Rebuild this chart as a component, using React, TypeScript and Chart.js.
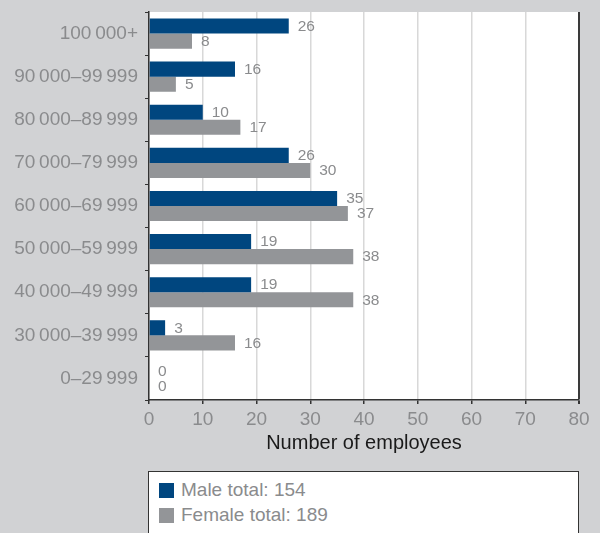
import React, { useEffect, useRef } from "react";
import { Chart, registerables } from "chart.js";

Chart.register(...registerables);

const categories = [
  "100\u2009000+",
  "90\u2009000–99\u2009999",
  "80\u2009000–89\u2009999",
  "70\u2009000–79\u2009999",
  "60\u2009000–69\u2009999",
  "50\u2009000–59\u2009999",
  "40\u2009000–49\u2009999",
  "30\u2009000–39\u2009999",
  "0–29\u2009999",
];
const maleValues = [26, 16, 10, 26, 35, 19, 19, 3, 0];
const femaleValues = [8, 5, 17, 30, 37, 38, 38, 16, 0];
const seriesNames = ["Male", "Female"];
const xMin = 0;
const xMax = 80;
const xStep = 10;
const xTitle = "Number of employees";

const FONT = '"Liberation Sans", Arial, Helvetica, sans-serif';
const MALE_COLOR = "#00467f";
const FEMALE_COLOR = "#939598";
const BG = "#d1d2d4";
const LABEL_GRAY = "#8a8b8d";
const DARK = "#333333";

const total = (arr: number[]) => arr.reduce((a, b) => a + b, 0);
const seriesColors = [MALE_COLOR, FEMALE_COLOR];
const seriesValues = [maleValues, femaleValues];

const plotBackground = {
  id: "plotBackground",
  beforeDraw(chart: any) {
    const { ctx, chartArea } = chart;
    if (!chartArea) return;
    ctx.save();
    ctx.fillStyle = "#ffffff";
    ctx.fillRect(chartArea.left, chartArea.top, chartArea.right - chartArea.left, chartArea.bottom - chartArea.top);
    ctx.restore();
  },
};

const valueLabels = {
  id: "valueLabels",
  afterDatasetsDraw(chart: any) {
    const ctx = chart.ctx;
    ctx.save();
    ctx.font = `15.5px ${FONT}`;
    ctx.fillStyle = LABEL_GRAY;
    ctx.textBaseline = "middle";
    ctx.textAlign = "left";
    chart.data.datasets.forEach((ds: any, i: number) => {
      const meta = chart.getDatasetMeta(i);
      meta.data.forEach((bar: any, j: number) => {
        ctx.fillText(String(ds.data[j]), bar.x + 9, bar.y + 0.5);
      });
    });
    ctx.restore();
  },
};

export default function App() {
  const canvasRef = useRef<HTMLCanvasElement | null>(null);

  useEffect(() => {
    if (!canvasRef.current) return;
    const chart = new Chart(canvasRef.current, {
      type: "bar",
      data: {
        labels: categories,
        datasets: seriesNames.map((name, i) => ({
          label: name,
          data: seriesValues[i],
          backgroundColor: seriesColors[i],
          borderWidth: 0,
          categoryPercentage: 0.7,
          barPercentage: 1.0,
        })),
      },
      options: {
        indexAxis: "y",
        animation: false,
        responsive: false,
        maintainAspectRatio: false,
        layout: { padding: { top: 12, right: 21, left: 0, bottom: 73 } },
        plugins: {
          legend: { display: false },
          tooltip: { enabled: false },
        },
        scales: {
          x: {
            type: "linear",
            min: xMin,
            max: xMax,
            ticks: {
              stepSize: xStep,
              color: LABEL_GRAY,
              font: { family: FONT, size: 19 },
              padding: 4,
            },
            grid: {
              color: (c: any) => (c.tick && c.tick.value === xMax ? "#3a3a3a" : "#d8d8d8"),
              lineWidth: (c: any) => (c.tick && c.tick.value === xMax ? 2 : 1.5),
              tickColor: DARK,
              tickLength: 4,
            },
            border: { display: true, color: DARK, width: 1.5 },
            title: {
              display: true,
              text: xTitle,
              color: "#1a1a1a",
              font: { family: FONT, size: 20 },
              padding: { top: 0, bottom: 5 },
            },
            afterFit: (scale: any) => {
              scale.height = 60;
            },
          },
          y: {
            type: "category",
            ticks: {
              color: LABEL_GRAY,
              font: { family: FONT, size: 19 },
              padding: 7,
            },
            grid: {
              drawOnChartArea: false,
              drawTicks: true,
              tickColor: DARK,
              tickLength: 4,
              offset: true,
            },
            border: { display: true, color: DARK, width: 1.5 },
            afterFit: (scale: any) => {
              scale.width = 149;
              scale.paddingTop = 0;
              scale.paddingBottom = 0;
            },
          },
        },
      },
      plugins: [plotBackground, valueLabels],
    } as any);
    return () => chart.destroy();
  }, []);

  return (
    <div
      style={{
        position: "fixed",
        left: 0,
        top: 0,
        width: 600,
        height: 533,
        background: BG,
        overflow: "hidden",
        fontFamily: FONT,
      }}
    >
      <canvas ref={canvasRef} width={600} height={533} style={{ display: "block" }} />
      <div
        style={{
          position: "absolute",
          left: 148,
          top: 471,
          width: 431,
          height: 80,
          boxSizing: "border-box",
          background: "#ffffff",
          border: `1.5px solid ${DARK}`,
        }}
      >
        {seriesNames.map((name, i) => (
          <div
            key={name}
            style={{
              position: "absolute",
              left: 10,
              top: 10 + i * 25,
              height: 16,
              display: "flex",
              alignItems: "center",
              whiteSpace: "nowrap",
            }}
          >
            <span
              style={{
                display: "inline-block",
                width: 15,
                height: 15,
                background: seriesColors[i],
                marginRight: 7,
              }}
            />
            <span style={{ color: LABEL_GRAY, fontSize: 19, lineHeight: "16px" }}>
              {`${name} total: ${total(seriesValues[i])}`}
            </span>
          </div>
        ))}
      </div>
    </div>
  );
}
